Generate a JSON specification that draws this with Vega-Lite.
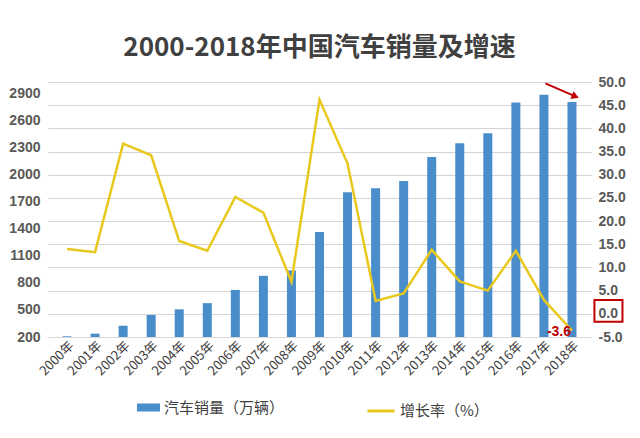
{
  "$schema": "https://vega.github.io/schema/vega-lite/v6.json",
  "autosize": {"type": "none"},
  "width": 543,
  "height": 255,
  "padding": {"left": 48, "top": 82, "right": 49, "bottom": 101},
  "background": "white",
  "config": {
    "view": {"stroke": null},
    "font": "Noto Sans CJK SC",
    "axisX": {
      "tickCount": 19,
      "labelExpr": "datum.value + '年'",
      "labelOverlap": false,
      "labelAngle": -45, "labelAlign": "right", "labelBaseline": "top",
      "labelFontSize": 13, "labelColor": "#404040", "labelPadding": 2,
      "ticks": false, "grid": false, "domainColor": "#D9D9D9", "title": null
    }
  },
  "title": {"text": "2000-2018年中国汽车销量及增速", "fontSize": 26, "fontWeight": "bold", "color": "#404040", "offset": 14, "anchor": "middle", "font": "Noto Sans CJK SC"},
  "datasets": {
    "main": [
      {"year": 2000, "sales": 208, "growth": 14.0},
      {"year": 2001, "sales": 237, "growth": 13.3},
      {"year": 2002, "sales": 325, "growth": 36.7},
      {"year": 2003, "sales": 444, "growth": 34.2},
      {"year": 2004, "sales": 507, "growth": 15.7},
      {"year": 2005, "sales": 576, "growth": 13.6},
      {"year": 2006, "sales": 722, "growth": 25.2},
      {"year": 2007, "sales": 879, "growth": 21.8},
      {"year": 2008, "sales": 938, "growth": 6.9},
      {"year": 2009, "sales": 1364, "growth": 46.2},
      {"year": 2010, "sales": 1806, "growth": 32.4},
      {"year": 2011, "sales": 1851, "growth": 2.8},
      {"year": 2012, "sales": 1931, "growth": 4.4},
      {"year": 2013, "sales": 2198, "growth": 13.8},
      {"year": 2014, "sales": 2349, "growth": 7.0},
      {"year": 2015, "sales": 2460, "growth": 5.0},
      {"year": 2016, "sales": 2803, "growth": 13.6},
      {"year": 2017, "sales": 2888, "growth": 3.0},
      {"year": 2018, "sales": 2808, "growth": -3.6}
    ],
    "arrow": [{"x": 2017.05, "x2": 2018.12, "y": 49.7, "y2": 46.9}],
    "box": [{"x": 2018.8, "x2": 2019.8, "y": -1.7, "y2": 3.0}]
  },
  "layer": [
    {
      "data": {"name": "main"},
      "mark": {"type": "line", "strokeWidth": 2.5, "opacity": 0},
      "encoding": {
        "x": {
          "field": "year", "type": "quantitative",
          "scale": {"domain": [1999.5, 2018.5], "nice": false, "zero": false},
          "axis": {"tickCount": 19, "title": null}
        },
        "y": {
          "field": "growth", "type": "quantitative",
          "scale": {"domain": [-5, 50], "nice": false, "zero": false},
          "axis": {
            "orient": "right",
            "tickCount": 11,
            "labelExpr": "replace(format(datum.value, '.1f'), '−', '-')",
            "grid": true, "gridColor": "#D4D4D4",
            "domain": false, "ticks": false,
            "labelFontSize": 14, "labelFontWeight": "bold", "labelColor": "#595959",
            "labelPadding": 7, "title": null, "labelFont": "Liberation Sans"
          }
        },
        "stroke": {
          "datum": "增长率（%）", "type": "nominal",
          "scale": {"range": ["#E8C81D"]},
          "legend": {
            "orient": "none", "legendX": 318, "legendY": 314, "title": null,
            "symbolType": "stroke", "symbolSize": 729, "symbolStrokeWidth": 3, "symbolOpacity": 1,
            "labelFontSize": 15, "labelColor": "#404040"
          }
        }
      }
    },
    {
      "data": {"name": "main"},
      "mark": {"type": "bar", "size": 9},
      "encoding": {
        "x": {"field": "year", "type": "quantitative", "axis": {"tickCount": 19, "title": null}},
        "y": {
          "field": "sales", "type": "quantitative",
          "scale": {"domain": [200, 3030], "nice": false, "zero": false},
          "axis": {
            "orient": "left",
            "values": [200, 500, 800, 1100, 1400, 1700, 2000, 2300, 2600, 2900],
            "format": "d",
            "grid": false, "domain": false, "ticks": false,
            "labelFontSize": 14, "labelFontWeight": "bold", "labelColor": "#595959",
            "labelPadding": 8, "title": null, "labelFont": "Liberation Sans"
          }
        },
        "y2": {"datum": 200},
        "fill": {
          "datum": "汽车销量（万辆）", "type": "nominal",
          "scale": {"range": ["#4A8DCB"]},
          "legend": {
            "orient": "none", "legendX": 89, "legendY": 314, "title": null,
            "symbolType": "M-1,-0.35L1,-0.35L1,0.35L-1,0.35Z", "symbolSize": 529,
            "symbolStrokeWidth": 0,
            "labelFontSize": 15, "labelColor": "#404040"
          }
        }
      }
    },
    {
      "data": {"name": "main"},
      "mark": {"type": "line", "strokeWidth": 2.5, "color": "#E8C81D"},
      "encoding": {
        "x": {"field": "year", "type": "quantitative", "axis": {"tickCount": 19, "title": null}},
        "y": {"field": "growth", "type": "quantitative", "scale": {"domain": [-5, 50], "nice": false, "zero": false}, "axis": null}
      }
    },
    {
      "data": {"name": "main"},
      "transform": [{"filter": "datum.year == 2018"}],
      "mark": {"type": "text", "dx": -13, "dy": 1, "fontSize": 14, "fontWeight": "bold", "color": "#C00000", "font": "Liberation Sans"},
      "encoding": {
        "x": {"field": "year", "type": "quantitative", "axis": {"tickCount": 19, "title": null}},
        "y": {"field": "growth", "type": "quantitative", "scale": {"domain": [-5, 50], "nice": false, "zero": false}, "axis": null},
        "text": {"field": "growth", "type": "nominal"}
      }
    },
    {
      "data": {"name": "arrow"},
      "mark": {"type": "rule", "color": "#C00000", "strokeWidth": 2},
      "encoding": {
        "x": {"field": "x", "type": "quantitative", "axis": {"tickCount": 19, "title": null}},
        "x2": {"field": "x2"},
        "y": {"field": "y", "type": "quantitative", "scale": {"domain": [-5, 50], "nice": false, "zero": false}, "axis": null},
        "y2": {"field": "y2"}
      }
    },
    {
      "data": {"name": "arrow"},
      "mark": {"type": "point", "shape": "triangle-right", "angle": 22, "filled": true, "size": 70, "color": "#C00000", "opacity": 1},
      "encoding": {
        "x": {"field": "x2", "type": "quantitative", "axis": {"tickCount": 19, "title": null}},
        "y": {"field": "y2", "type": "quantitative", "scale": {"domain": [-5, 50], "nice": false, "zero": false}, "axis": null}
      }
    },
    {
      "data": {"name": "box"},
      "mark": {"type": "rect", "fill": null, "stroke": "#C00000", "strokeWidth": 2},
      "encoding": {
        "x": {"field": "x", "type": "quantitative", "axis": {"tickCount": 19, "title": null}},
        "x2": {"field": "x2"},
        "y": {"field": "y", "type": "quantitative", "scale": {"domain": [-5, 50], "nice": false, "zero": false}, "axis": null},
        "y2": {"field": "y2"}
      }
    }
  ],
  "resolve": {"scale": {"y": "independent"}}
}
